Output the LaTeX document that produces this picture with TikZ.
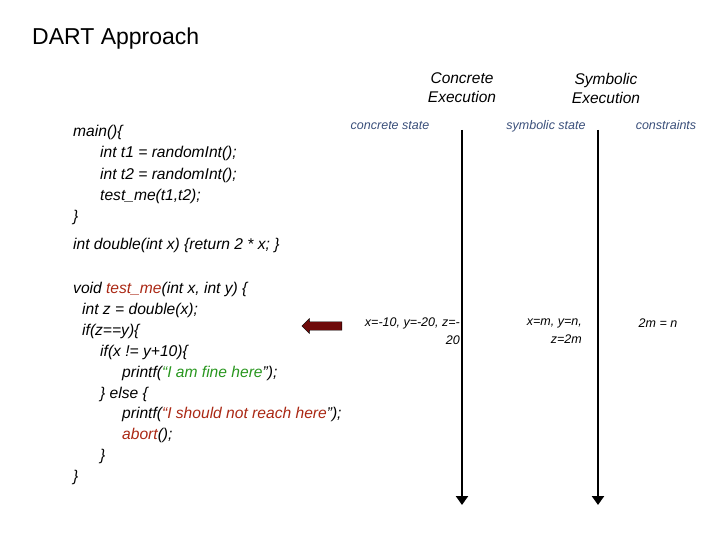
\documentclass[tikz,border=0pt]{standalone}
\usepackage{fontspec}
\setmainfont{Liberation Sans}
\usetikzlibrary{shapes,arrows.meta,positioning,calc}
\definecolor{labelblue}{RGB}{58,79,122}
\definecolor{fnred}{RGB}{170,40,20}
\definecolor{strgreen}{RGB}{40,150,30}
\definecolor{arrowred}{RGB}{110,10,10}
\tikzset{
  code/.style={anchor=base west,inner sep=0pt,font=\fontsize{15.6}{18}\selectfont\itshape},
  head/.style={align=center,inner sep=0pt,font=\fontsize{15.5}{19}\selectfont\itshape},
  colhead/.style={anchor=base,inner sep=0pt,text=labelblue,font=\fontsize{12.5}{14}\selectfont\itshape},
  val/.style={inner sep=0pt,font=\fontsize{12.5}{18}\selectfont\itshape},
  timeline/.style={line width=2.5pt,-{Triangle[length=9pt,width=12pt]}}
}
\begin{document}
\begin{tikzpicture}[x=1pt,y=-1pt]
            \useasboundingbox (0,0) rectangle (720,540);
            \node[anchor=base west,inner sep=0pt,font=\fontsize{23}{26}\selectfont] (title) at (32,45) {DART Approach};
            % column heads
            \node[head] (conc) at (462,88) {Concrete\\Execution};
            \node[head] (symb) at (606,88) {Symbolic\\Execution};
            \node[colhead] (cstate) at (390,130) {concrete state};
            \node[colhead] (sstate) at (546,130) {symbolic state};
            \node[colhead] (cons) at (666,130) {constraints};
            % time lines
            \coordinate (ctop) at (462,130);
            \coordinate (cbot) at (462,505);
            \coordinate (stop) at (598,130);
            \coordinate (sbot) at (598,505);
            \draw[timeline] (ctop) -- (cbot);
            \draw[timeline] (stop) -- (sbot);
            % program text
            \foreach \x/\y/\t [count=\i] in {
                73/137/{main()\{},
                100/158/{int t1 = randomInt();},
                100/180/{int t2 = randomInt();},
                100/201/{test\_me(t1,t2);},
                73/222/{\}},
                73/249/{int double(int x) \{return 2 * x; \}},
                73/293/{void \textcolor{fnred}{test\_me}(int x, int y) \{},
                82/314/{int z = double(x);},
                82/335/{if(z==y)\{},
                100/356/{if(x != y+10)\{},
                122/377/{printf(\textcolor{strgreen}{``I am fine here}'');},
                100/398/{\} else \{},
                122/418/{printf(\textcolor{fnred}{``I should not reach here}'');},
                122/439/{\textcolor{fnred}{abort}();},
                100/460/{\}},
                73/481/{\}}} {
                \node[code] (line\i) at (\x,\y) {\t};
            }
            % current point
            \node[single arrow,draw=black,fill=arrowred,minimum height=40pt,minimum width=15pt,
                  single arrow head extend=2.5pt,inner sep=3pt,shape border rotate=180] (pc) at (324,326) {};
            \node[val,align=right,anchor=east] (cval) at (460,331) {x=-10, y=-20, z=-\\20};
            \node[val,align=right,anchor=east] (sval) at (582,331) {x=m, y=n,\\z=2m};
            \node[val] (pc2) at (658,323) {2m = n};
        \end{tikzpicture}
\end{document}
